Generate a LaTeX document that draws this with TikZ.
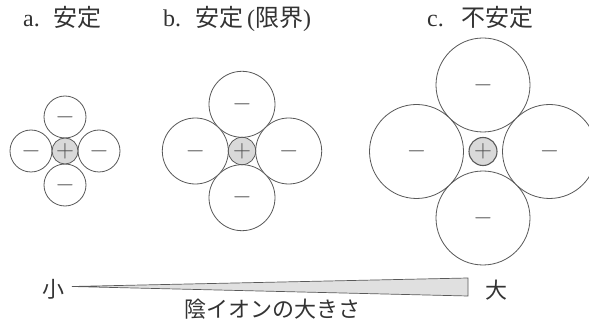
\documentclass[tikz,border=0pt]{standalone}
\usepackage{fontspec}
\setmainfont{Liberation Serif}
\newfontfamily\jp{Noto Sans CJK JP}
\begin{document}
\begin{tikzpicture}[x=1pt,y=-1pt,
  line/.style={draw=black!65,line width=0.8pt},
  anion/.style={circle,line,fill=white,inner sep=0pt,minimum size=#1},
  cation/.style={circle,line,fill=black!15,inner sep=0pt,minimum size=#1},
  sign/.style={text=black!65,font=\fontsize{27}{27}\selectfont,inner sep=0pt},
  psign/.style={text=black!70,font=\fontsize{24}{24}\selectfont,inner sep=0pt},
  title/.style={text=black!80,font=\fontsize{24}{24}\selectfont,inner sep=0pt,anchor=base west},
  jtext/.style={text=black!80,font=\jp\fontsize{22}{22}\selectfont,inner sep=0pt}]
\clip (0,0) rectangle (589,323);
\fill[white] (0,0) rectangle (589,323);
% titles
\node[title] (ta) at (23,27) {a.\hspace{14pt}{\jp 安定}};
\node[title] (tb) at (163,27) {b.\hspace{14pt}{\jp 安定}\,({\jp 限界})};
\node[title] (tc) at (427,27) {c.\hspace{18pt}{\jp 不安定}};
% a
\begin{scope}[shift={(65,151)}]
  \foreach \n/\p in {at/{(0,-34)},ab/{(0,34)},al/{(-34,0)},ar/{(34,0)}}
    \node[anion=42pt,sign] (\n) at \p {$-$};
  \node[cation=26pt,psign] (ac) at (0,0) {$+$};
\end{scope}
% b
\begin{scope}[shift={(242,151)}]
  \foreach \n/\p in {bt/{(0,-46.7)},bb/{(0,46.7)},bl/{(-46.7,0)},br/{(46.7,0)}}
    \node[anion=66pt,sign] (\n) at \p {$-$};
  \node[cation=27.4pt,psign] (bc) at (0,0) {$+$};
\end{scope}
% c
\begin{scope}[shift={(483,151.5)}]
  \foreach \n/\p in {ct/{(0,-66.5)},cb/{(0,66.5)},cl/{(-66.5,0)},cr/{(66.5,0)}}
    \node[anion=94pt,sign] (\n) at \p {$-$};
  \node[cation=28pt,psign,line width=1.1pt] (cc) at (0,0) {$+$};
\end{scope}
% wedge
\coordinate (tip) at (72,286.5);
\coordinate (wt) at (468,278);
\coordinate (wb) at (468,296);
\draw[line,fill=black!12,line width=0.7pt] (tip) -- (wt) -- (wb) -- cycle;
\node[jtext] (small) at (53,289) {小};
\node[jtext] (large) at (496,290) {大};
\node[jtext] (lab) at (272,309) {陰イオンの大きさ};
\end{tikzpicture}
\end{document}
